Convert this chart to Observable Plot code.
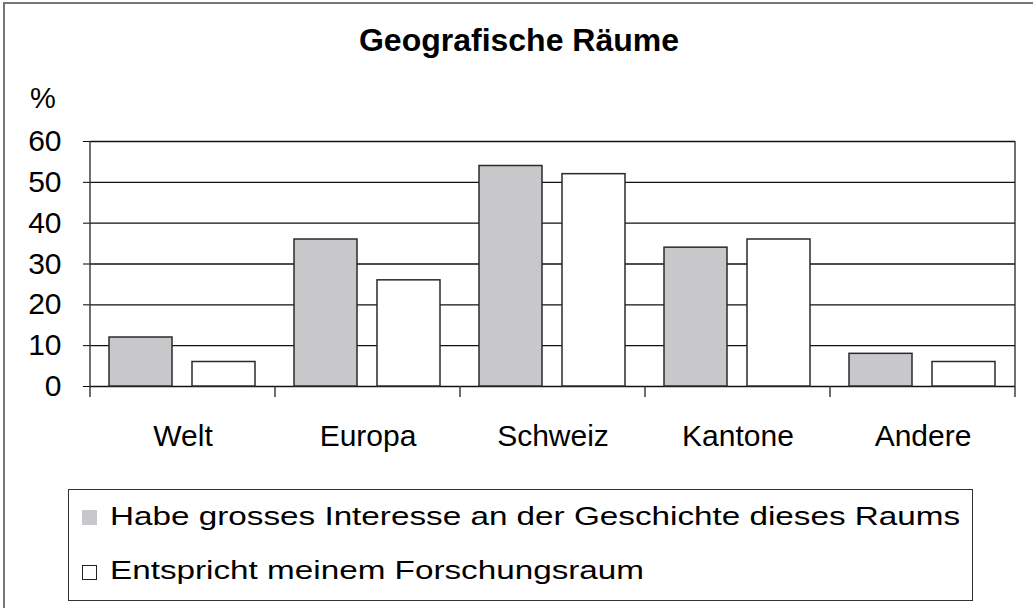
<!DOCTYPE html>
<html>
<head>
<meta charset="utf-8">
<script src="https://cdn.jsdelivr.net/npm/d3@7"></script>
<script src="https://cdn.jsdelivr.net/npm/@observablehq/plot@0.6"></script>
<style>
  html, body { margin: 0; padding: 0; background: #fff; }
  #wrap { position: relative; width: 1033px; height: 608px; overflow: hidden; background: #fff;
          font-family: "Liberation Sans", Arial, Helvetica, sans-serif; color: #000; }
  #outer { position: absolute; left: 3px; top: 2px; width: 1100px; height: 700px; border: 2px solid #777; box-sizing: border-box; }
  #title { position: absolute; left: 0; width: 1038px; top: 22px; text-align: center; font-weight: bold; font-size: 32px; line-height: 36px; }
  #unit { position: absolute; left: 30px; top: 82px; font-size: 29px; line-height: 32px; }
  #chart { position: absolute; left: 0; top: 0; }
  #legend { position: absolute; left: 68px; top: 489px; width: 905px; height: 112px; border: 1.5px solid #333; box-sizing: border-box; }
  .sw { position: absolute; width: 15px; height: 15px; box-sizing: border-box; }
  .lt { position: absolute; font-size: 25px; line-height: 28px; transform: scaleX(1.33); transform-origin: left center; white-space: nowrap; }
</style>
</head>
<body>
<div id="wrap">
  <div id="outer"></div>
  <div id="title"></div>
  <div id="unit"></div>
  <div id="chart"></div>
  <div id="legend"></div>
</div>
<script>
const titleText = "Geografische Räume";
const unitLabel = "%";
const categories = ["Welt", "Europa", "Schweiz", "Kantone", "Andere"];
const seriesNames = ["Habe grosses Interesse an der Geschichte dieses Raums", "Entspricht meinem Forschungsraum"];
const interestValues = [12, 36, 54, 34, 8];
const researchValues = [6, 26, 52, 36, 6];
const yTicks = [0, 10, 20, 30, 40, 50, 60];
const seriesColors = ["#c8c8ca", "#ffffff"];

document.getElementById("title").textContent = titleText;
document.getElementById("unit").textContent = unitLabel;

const data = [];
categories.forEach((c, i) => {
  data.push({cat: c, series: seriesNames[0], value: interestValues[i]});
  data.push({cat: c, series: seriesNames[1], value: researchValues[i]});
});

const chart = Plot.plot({
  width: 1033,
  height: 470,
  marginLeft: 89,
  marginRight: 17,
  marginTop: 141,
  marginBottom: 84,
  style: {fontFamily: "'Liberation Sans', Arial, sans-serif", fontSize: "30px", background: "transparent", color: "#000", overflow: "visible"},
  fx: {domain: categories, padding: 0, axis: "bottom", tickSize: 0, tickPadding: 38, label: null},
  x: {domain: seriesNames, axis: null, paddingInner: 0.24, paddingOuter: 0.23},
  y: {domain: [0, 60], ticks: yTicks, tickSize: 7, tickPadding: 22, label: null, tickFormat: d => String(d)},
  color: {domain: seriesNames, range: seriesColors},
  marks: [
    Plot.ruleY(yTicks, {stroke: "#111", strokeWidth: 1.3}),
    Plot.barY(data, {fx: "cat", x: "series", y: "value", fill: "series", stroke: "#2a2a2a", strokeWidth: 1.5})
  ]
});
document.getElementById("chart").appendChild(chart);

// frame lines and category separator ticks using the plot's own scales
const svgEl = chart.tagName.toLowerCase() === "svg" ? chart : chart.querySelector("svg");
const fxS = chart.scale("fx");
const yS = chart.scale("y");
const y0 = yS.apply(0), yTop = yS.apply(60);
const edges = categories.map(c => fxS.apply(c));
edges.push(fxS.apply(categories[categories.length - 1]) + fxS.bandwidth);
const g = d3.select(svgEl).append("g").attr("stroke", "#333").attr("stroke-width", 1.4);
edges.forEach((ex, i) => {
  const full = i === 0 || i === edges.length - 1;
  g.append("line").attr("x1", ex).attr("x2", ex).attr("y1", full ? yTop : y0).attr("y2", y0 + 11);
});

// legend
const legend = document.getElementById("legend");
const rows = [{sw: {left: 13, top: 20}, txt: {left: 41, top: 12}}, {sw: {left: 13, top: 75}, txt: {left: 41, top: 66}}];
seriesNames.forEach((name, i) => {
  const sw = document.createElement("div");
  sw.className = "sw";
  sw.style.left = rows[i].sw.left + "px";
  sw.style.top = rows[i].sw.top + "px";
  sw.style.background = seriesColors[i];
  sw.style.border = i === 0 ? "none" : "1px solid #222";
  legend.appendChild(sw);
  const t = document.createElement("div");
  t.className = "lt";
  t.style.left = rows[i].txt.left + "px";
  t.style.top = rows[i].txt.top + "px";
  t.textContent = name;
  legend.appendChild(t);
});
</script>
</body>
</html>
